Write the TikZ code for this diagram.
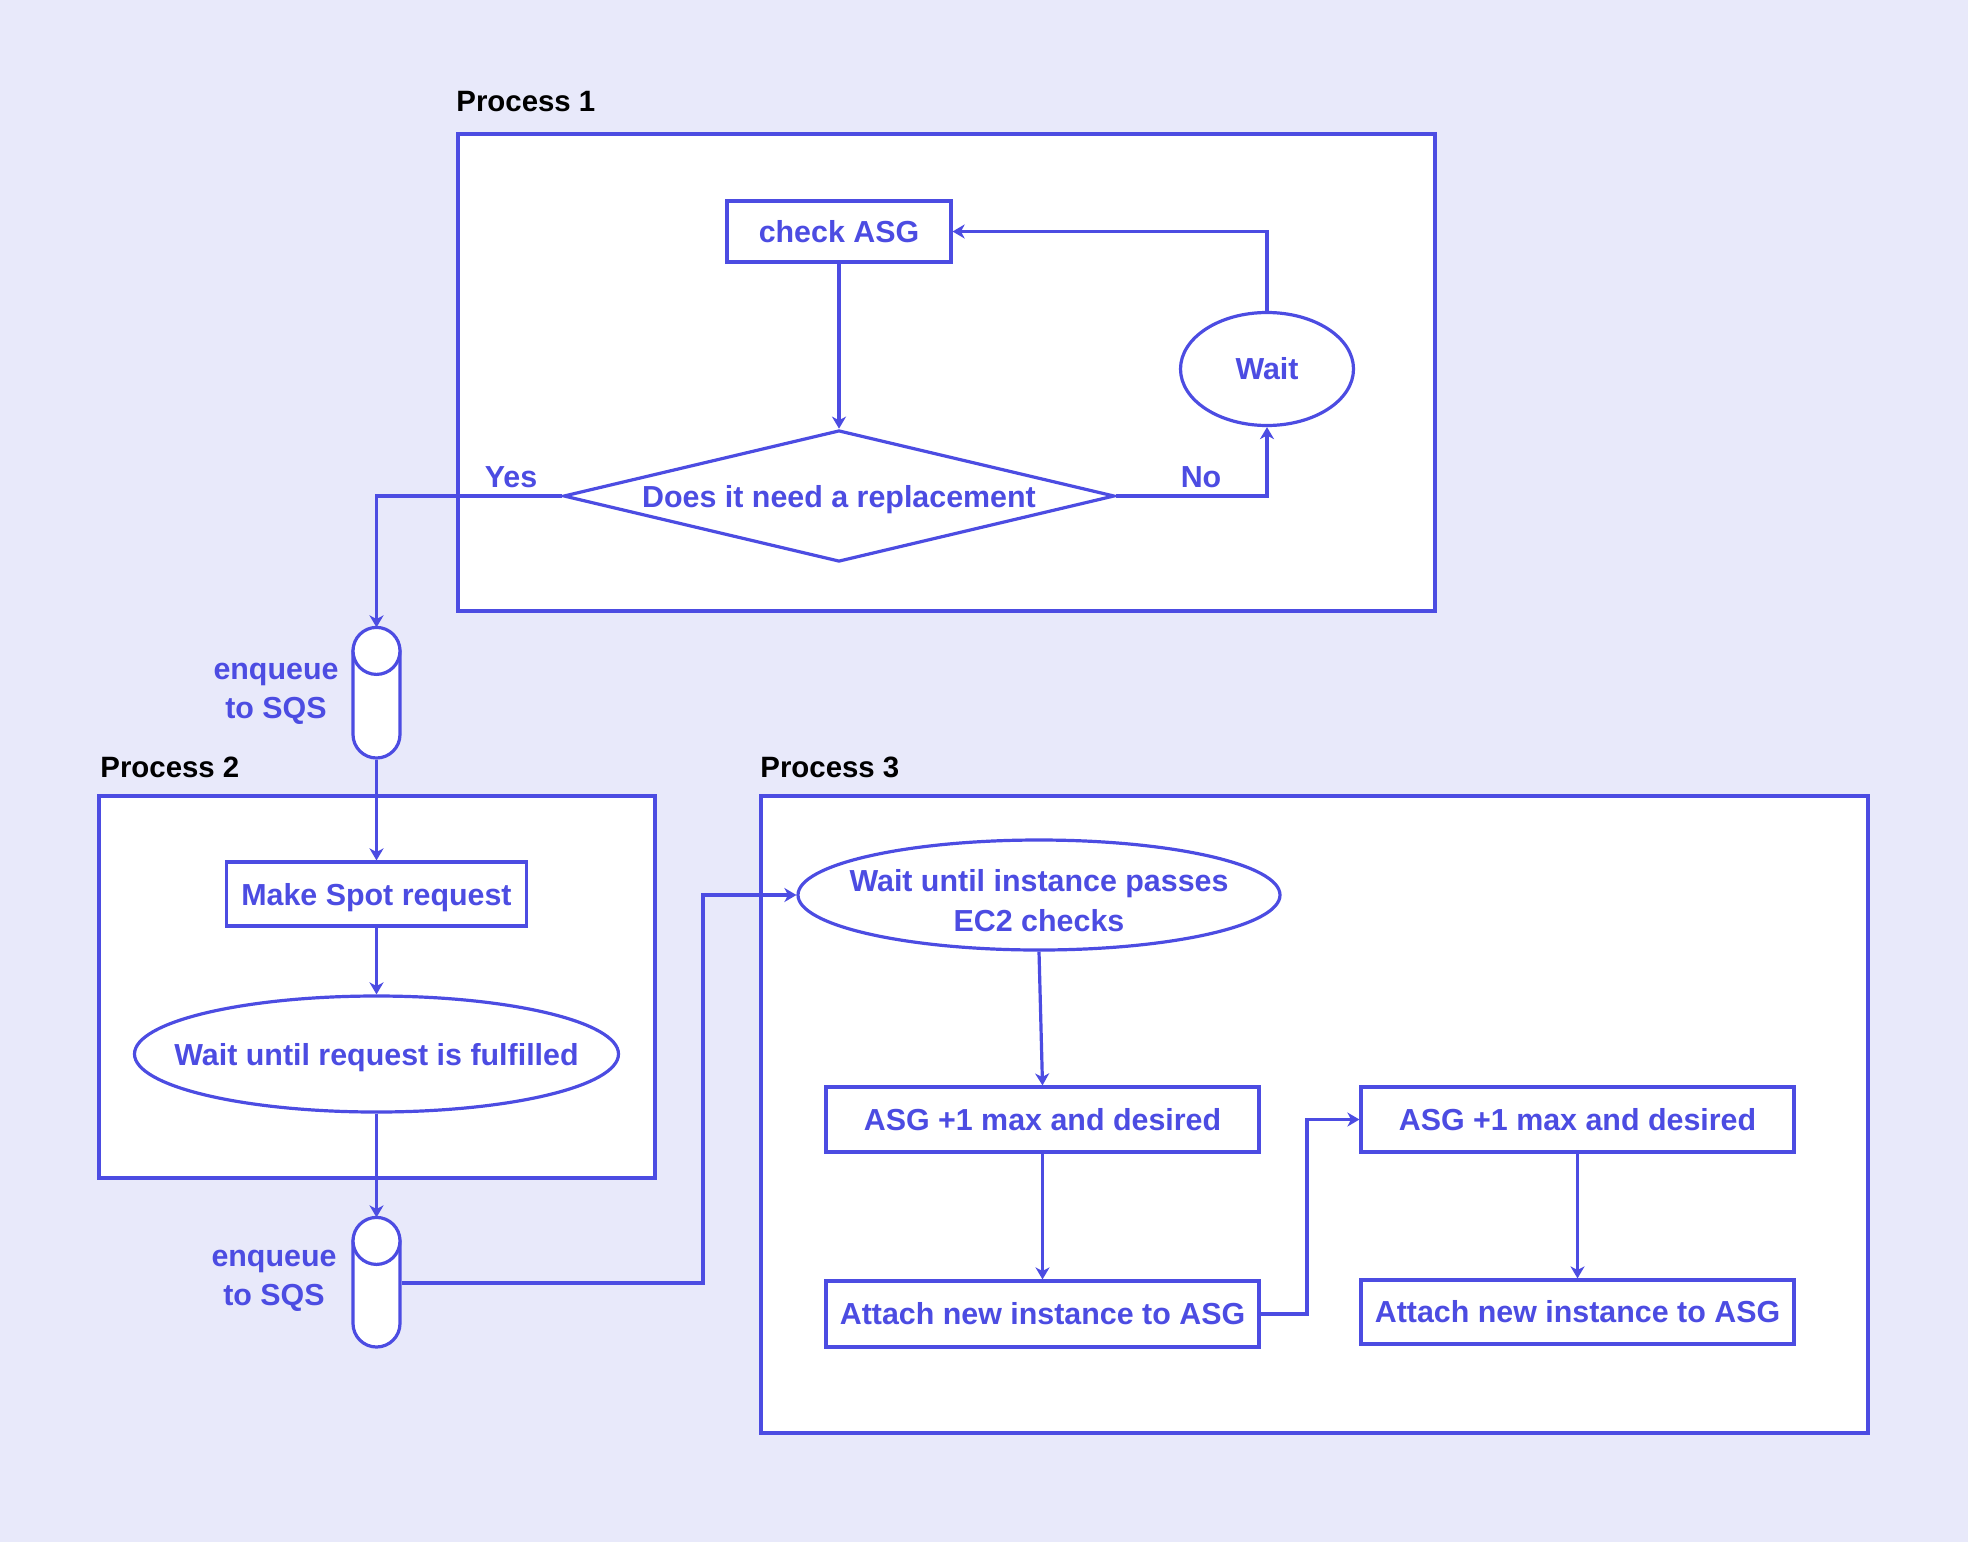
\documentclass[tikz,border=0pt]{standalone}
\usepackage{fontspec}
\setmainfont{Liberation Sans}
\usetikzlibrary{arrows.meta,shapes.geometric}
\definecolor{bg}{RGB}{232,233,250}
\definecolor{blu}{RGB}{76,76,226}
\begin{document}
\begin{tikzpicture}[x=0.5pt,y=-0.5pt,
  every node/.style={font=\bfseries\fontsize{15.2}{19.5}\selectfont, text=blu},
  line/.style={draw=blu, line width=1.6pt},
  arr/.style={line, -{Stealth[length=6pt,width=7pt,inset=1.8pt]}},
  frame/.style={draw=blu, fill=white, line width=1.6pt},
  box/.style={draw=blu, fill=white, line width=1.6pt, inner sep=0pt, rectangle},
  ell/.style={draw=blu, fill=white, line width=1.6pt, inner sep=0pt, ellipse},
  dec/.style={draw=blu, fill=white, line width=1.6pt, inner sep=0pt, diamond, aspect=4.19},
  queue/.style={draw=blu, fill=white, line width=1.6pt, inner sep=0pt, rectangle, rounded corners=11.75pt, minimum width=23.5pt},
  title/.style={text=black, anchor=base west, inner sep=0pt, font=\bfseries\fontsize{14.7}{18}\selectfont},
  side/.style={align=center},
  tag/.style={anchor=base}
]
\fill[bg] (0,0) rectangle (1968,1542);
\useasboundingbox (0,0) rectangle (1968,1542);

% frames
\draw[frame] (458,134) rectangle (1435,611);
\draw[frame] (99,796) rectangle (655,1178);
\draw[frame] (761,796) rectangle (1868,1433);
\node[title] (t1) at (456,111) {Process 1};
\node[title] (t2) at (100,777) {Process 2};
\node[title] (t3) at (760,777) {Process 3};

% process 1
\node[box, minimum width=112pt, minimum height=30.5pt] (chk) at (839,231.5) {check ASG};
\node[dec, text depth=0pt, minimum width=275.5pt, minimum height=65.75pt] (dia) at (839,496) {Does it need a replacement};
\node[ell, minimum width=86.5pt, minimum height=56.5pt] (wait) at (1267,369) {\makebox[0pt]{Wait}};
\node[tag] (yes) at (511,487) {Yes};
\node[tag] (no) at (1201,487) {No};

% queue 1
\node[queue, minimum height=64.5pt] (q1) at (376.5,693.5) {};
\draw[line, fill=white] ([yshift=-11.75pt]q1.north) circle[radius=11.75pt];
\node[side] (q1l) at (276,694) {enqueue\\to SQS};

% process 2
\node[box, text depth=0pt, minimum width=150pt, minimum height=32pt] (spot) at (376.5,894) {Make Spot request};
\node[ell, text depth=0pt, minimum width=242pt, minimum height=58pt] (e2) at (376.5,1054) {\makebox[0pt]{Wait until request is fulfilled}};

% queue 2
\node[queue, minimum height=64pt] (q2) at (376.5,1283) {};
\draw[line, fill=white] ([yshift=-11.75pt]q2.north) circle[radius=11.75pt];
\node[side] (q2l) at (274,1281) {enqueue\\to SQS};

% process 3
\node[ell, minimum width=241pt, minimum height=55pt] (e3) at (1039,895) {\makebox[0pt]{\raisebox{-8pt}[0pt][0pt]{\begin{tabular}{@{}c@{}}Wait until instance passes\\[0.3pt]EC2 checks\end{tabular}}}};
\node[box, minimum width=216.5pt, minimum height=32.5pt] (asg1) at (1042.5,1119.5) {ASG +1 max and desired};
\node[box, minimum width=216.5pt, minimum height=33pt] (att1) at (1042.5,1314) {Attach new instance to ASG};
\node[box, minimum width=216.5pt, minimum height=32.5pt] (asg2) at (1577.5,1119.5) {ASG +1 max and desired};
\node[box, minimum width=216.5pt, minimum height=32pt] (att2) at (1577.5,1312) {Attach new instance to ASG};

\coordinate (j1) at (703,0);
\coordinate (j2) at (1307,0);

% connectors
\draw[arr] (chk.south) -- (dia.north);
\draw[arr] (wait.north) |- (chk.east);
\draw[arr] (dia.east) -| (wait.south);
\draw[arr] (dia.west) -| (q1.north);
\draw[arr] (q1.south) -- (spot.north);
\draw[arr] (spot.south) -- (e2.north);
\draw[arr] (e2.south) -- (q2.north);
\draw[arr] (q2.east) -| (j1 |- e3.west) -- (e3.west);
\draw[arr] (e3.south) -- (asg1.north);
\draw[arr] (asg1.south) -- (att1.north);
\draw[arr] (att1.east) -| (j2 |- asg2.west) -- (asg2.west);
\draw[arr] (asg2.south) -- (att2.north);
\end{tikzpicture}
\end{document}
